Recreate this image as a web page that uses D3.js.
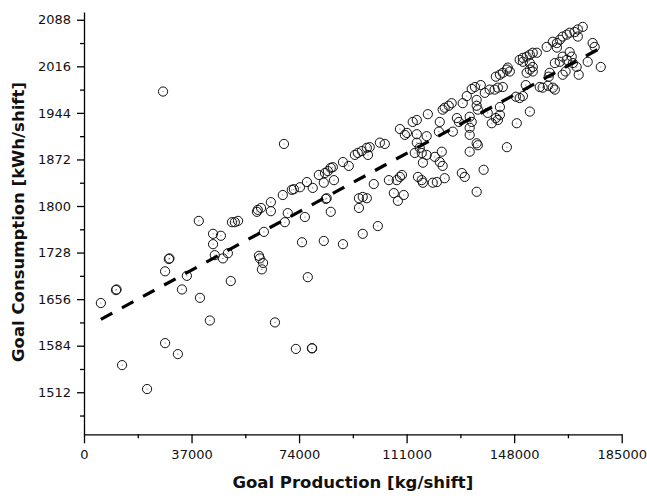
<!DOCTYPE html>
<html>
<head>
<meta charset="utf-8">
<script src="https://cdn.jsdelivr.net/npm/d3@7"></script>
<style>
  body { margin: 0; background: #fff; }
  svg { display: block; }
  text { font-family: "DejaVu Sans", Verdana, sans-serif; }
</style>
</head>
<body>
<svg id="chart" width="647" height="498"></svg>
<script>
// Goal production per shift (kg) and goal energy consumption per shift (kWh)
const production = [
  5800, 11000, 11200, 13100, 21700, 27200, 27900, 32300, 27900, 29200, 29400,
  33700, 35400, 39900, 43300, 39500, 44400, 44400, 47100, 45000, 47800, 49500,
  50500, 50900, 51900, 53000, 60200, 60500, 61600, 61200, 65700, 59500, 59800,
  60900, 64300, 64300, 68800, 68400, 61900, 70100, 69100, 76000, 71500, 72200,
  74300, 76700, 78700, 80800, 82900, 83900, 84900, 85600, 82500, 86000, 83200,
  83500, 84900, 89100, 91100, 93200, 94200, 95600, 97300, 98300, 97700, 101800,
  103500, 94600, 95900, 97300, 94600, 99700, 104900, 107600, 108700, 109400,
  106600, 110000, 108000, 113800, 116200, 117900, 116600, 114900, 116200, 116600,
  114500, 75000, 82500, 89100, 95900, 101100, 77000, 72900, 78400, 78500,
  108700, 110400, 111100, 113100, 114500, 114500, 118300, 117900, 122400, 122100,
  123400, 124100, 125500, 126500, 128300, 129000, 126900, 130300, 131700, 133400,
  134500, 136500, 135100, 135100, 135500, 132700, 133400, 132700, 132700, 132700,
  135500, 135100, 137900, 139600, 141300, 142400, 144100, 138900, 140300, 141700,
  142400, 143100, 143100, 141700, 143100, 144100, 145500, 145800, 146500, 145500,
  148900, 148600, 149900, 151000, 152000, 152300, 153400, 154400, 154400, 149900,
  151000, 152300, 153400, 154400, 155800, 151000, 153400, 153400, 156800, 157800,
  159600, 161300, 162000, 159200, 162700, 160200, 159900, 162000, 163700, 164700,
  166100, 167100, 161300, 162700, 163700, 164700, 166100, 167100, 168800, 169900,
  171600, 164700, 165700, 167800, 168200, 169900, 169500, 170200, 173300, 175000,
  175700, 177800, 137500, 135100, 130000, 131000, 120000, 124100, 121400, 122400,
  123400, 120700, 115500, 123100
];
const consumption = [
  1650, 1670, 1671, 1554, 1517, 1977, 1588, 1571, 1699, 1718, 1719,
  1671, 1692, 1658, 1623, 1777, 1741, 1757, 1754, 1724, 1719, 1727,
  1684, 1775, 1775, 1777, 1723, 1719, 1712, 1702, 1620, 1791, 1794,
  1797, 1806, 1792, 1896, 1817, 1760, 1789, 1775, 1783, 1825, 1826,
  1829, 1837, 1828, 1848, 1851, 1854, 1859, 1860, 1836, 1840, 1811,
  1812, 1791, 1868, 1862, 1879, 1882, 1885, 1890, 1891, 1879, 1898,
  1896, 1812, 1814, 1812, 1797, 1834, 1840, 1840, 1845, 1848,
  1820, 1817, 1808, 1882, 1882, 1879, 1867, 1845, 1840, 1836,
  1898, 1744, 1746, 1741, 1757, 1769, 1690, 1579, 1580, 1580,
  1919, 1910, 1913, 1930, 1933, 1911, 1942, 1908, 1930, 1915,
  1949, 1952, 1955, 1959, 1936, 1930, 1915, 1959, 1970, 1981,
  1984, 1987, 1964, 1955, 1949, 1938, 1930, 1921, 1910, 1884,
  1894, 1897, 1975, 1980, 1980, 1983, 1984, 1944, 1928, 1936,
  1933, 1941, 1953, 2000, 2003, 2006, 2011, 2014, 2008, 1891,
  1928, 1969, 1967, 1970, 1987, 2006, 2011, 2015, 2008, 2026,
  2029, 2031, 2034, 2037, 2037, 2023, 2021, 1946, 1984, 1983,
  1986, 1983, 1980, 2046, 2045, 2006, 2000, 2021, 2023, 2031,
  2026, 2038, 2054, 2052, 2057, 2062, 2065, 2068, 2069, 2073,
  2077, 2003, 2008, 2031, 2021, 2062, 2015, 2003, 2023, 2052,
  2046, 2015, 1856, 1822, 1851, 1845, 1836, 1843, 1837, 1868,
  1862, 1876, 1890, 1884
];

// Axis ticks
const xTickValues = [0, 37000, 74000, 111000, 148000, 185000];
const xMinorTicks = [18500, 55500, 92500, 129500, 166500];
const yTickValues = [1512, 1584, 1656, 1728, 1800, 1872, 1944, 2016, 2088];
const yMinorTicks = [1476, 1548, 1620, 1692, 1764, 1836, 1908, 1980, 2052];

// Linear fit: consumption = intercept + slope * production
const trendIntercept = 1610.6;
const trendSlope = 0.00244;

const points = production.map((p, i) => ({ p, c: consumption[i] }));

const svg = d3.select("#chart");

const x = d3.scaleLinear().domain([0, 185000]).range([84, 621.7]);
const y = d3.scaleLinear().domain([1447, 2100]).range([434.3, 12]);

// x axis: major ticks with labels, then minor ticks
const xAxisG = svg.append("g").attr("transform", `translate(0,${y.range()[0]})`);
xAxisG.call(d3.axisBottom(x).tickValues(xTickValues).tickFormat(d3.format("d"))
  .tickSize(9).tickSizeOuter(0).tickPadding(6));
xAxisG.append("g").call(d3.axisBottom(x).tickValues(xMinorTicks).tickFormat("")
  .tickSize(4).tickSizeOuter(0))
  .select(".domain").remove();

const yAxisG = svg.append("g").attr("transform", `translate(${x.range()[0]},0)`);
yAxisG.call(d3.axisLeft(y).tickValues(yTickValues).tickFormat(d3.format("d"))
  .tickSize(7).tickSizeOuter(0).tickPadding(6));
yAxisG.append("g").call(d3.axisLeft(y).tickValues(yMinorTicks).tickFormat("")
  .tickSize(4).tickSizeOuter(0))
  .select(".domain").remove();

svg.selectAll(".domain, .tick line").attr("stroke", "#000").attr("stroke-width", 1.3);
svg.selectAll(".tick text")
  .attr("font-family", '"DejaVu Sans", Verdana, sans-serif')
  .attr("font-size", 13)
  .attr("fill", "#111");

// Scatter markers: open circles with a small centre dot
const marks = svg.append("g");
marks.selectAll("circle.pt")
  .data(points)
  .join("circle")
  .attr("class", "pt")
  .attr("cx", d => x(d.p))
  .attr("cy", d => y(d.c))
  .attr("r", 4.6)
  .attr("fill", "none")
  .attr("stroke", "#111")
  .attr("stroke-width", 1);
marks.selectAll("circle.ctr")
  .data(points)
  .join("circle")
  .attr("class", "ctr")
  .attr("cx", d => x(d.p))
  .attr("cy", d => y(d.c))
  .attr("r", 0.55)
  .attr("fill", "#666");

// Dashed trend line across the production range
const [pMin, pMax] = d3.extent(production);
const trend = [pMin, pMax].map(p => ({ p, c: trendIntercept + trendSlope * p }));
svg.append("path")
  .datum(trend)
  .attr("d", d3.line().x(d => x(d.p)).y(d => y(d.c)))
  .attr("fill", "none")
  .attr("stroke", "#000")
  .attr("stroke-width", 3.2)
  .attr("stroke-dasharray", "13,11");

// Axis titles
svg.append("text")
  .attr("x", (x.range()[0] + x.range()[1]) / 2)
  .attr("y", 488)
  .attr("text-anchor", "middle")
  .attr("font-size", 16.5)
  .attr("font-weight", "bold")
  .attr("fill", "#111")
  .text("Goal Production [kg/shift]");

svg.append("text")
  .attr("transform", "translate(24,222) rotate(-90)")
  .attr("text-anchor", "middle")
  .attr("font-size", 16.5)
  .attr("font-weight", "bold")
  .attr("fill", "#111")
  .text("Goal Consumption [kWh/shift]");
</script>
</body>
</html>
